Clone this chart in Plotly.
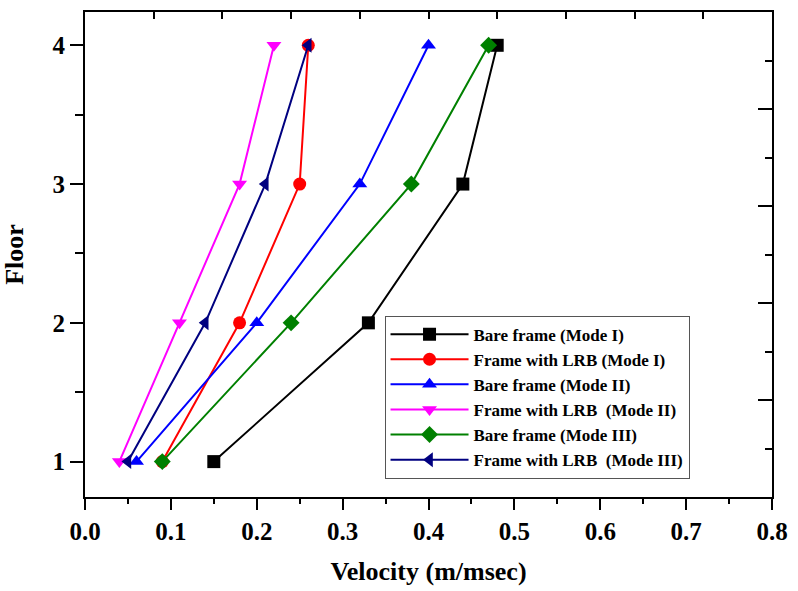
import plotly.graph_objects as go

floors = [1, 2, 3, 4]
bare_mode1 = [0.15, 0.33, 0.44, 0.48]
lrb_mode1 = [0.09, 0.18, 0.25, 0.26]
bare_mode2 = [0.06, 0.20, 0.32, 0.40]
lrb_mode2 = [0.04, 0.11, 0.18, 0.22]
bare_mode3 = [0.09, 0.24, 0.38, 0.47]
lrb_mode3 = [0.05, 0.14, 0.21, 0.26]

series = [
    ("Bare frame (Mode I)", bare_mode1, "#000000", "square"),
    ("Frame with LRB (Mode I)", lrb_mode1, "#ff0000", "circle"),
    ("Bare frame (Mode II)", bare_mode2, "#0000ff", "triangle-up"),
    ("Frame with LRB  (Mode II)", lrb_mode2, "#ff00ff", "triangle-down"),
    ("Bare frame (Mode III)", bare_mode3, "#008000", "diamond"),
    ("Frame with LRB  (Mode III)", lrb_mode3, "#000080", "triangle-left"),
]

FONT = "Times New Roman, Liberation Serif, serif"

fig = go.Figure()
for name, vals, color, sym in series:
    fig.add_trace(go.Scatter(
        x=vals, y=floors, name=name, mode="lines+markers",
        line=dict(color=color, width=2),
        marker=dict(symbol=sym, size=13, color=color, line=dict(width=0)),
    ))

# empty trace to instantiate the mirrored top/right axes
fig.add_trace(go.Scatter(x=[], y=[], xaxis="x2", yaxis="y2", showlegend=False, hoverinfo="skip"))

fig.update_layout(
    width=798, height=591,
    margin=dict(l=85, r=21, t=10, b=92),
    paper_bgcolor="white", plot_bgcolor="white",
    font=dict(family=FONT, color="black"),
    showlegend=True,
    legend=dict(
        x=0.436, y=0.374, xanchor="left", yanchor="top",
        bordercolor="#555555", borderwidth=1, bgcolor="white",
        font=dict(family=FONT, size=17, color="black", weight="bold"),
        itemwidth=78, tracegroupgap=0,
    ),
    xaxis=dict(
        range=[0, 0.8], dtick=0.1, tick0=0, tickformat=".1f",
        showgrid=False, zeroline=False,
        showline=True, linecolor="black", linewidth=2, mirror=True,
        ticks="outside", ticklen=11, tickwidth=2, tickcolor="black",
        minor=dict(ticks="outside", ticklen=5, tickwidth=2, tickcolor="black", dtick=0.05, tick0=0, showgrid=False),
        tickfont=dict(family=FONT, size=25, color="black", weight="bold"),
        title=dict(text="Velocity (m/msec)", font=dict(family=FONT, size=26, color="black", weight="bold"), standoff=18),
    ),
    yaxis=dict(
        range=[0.745, 4.24], dtick=1, tick0=0,
        showgrid=False, zeroline=False,
        showline=True, linecolor="black", linewidth=2, mirror=True,
        ticks="outside", ticklen=13, tickwidth=2, tickcolor="black",
        minor=dict(ticks="outside", ticklen=8, tickwidth=2, tickcolor="black", dtick=0.5, tick0=0, showgrid=False),
        tickfont=dict(family=FONT, size=25, color="black", weight="bold"),
        title=dict(text="Floor", font=dict(family=FONT, size=26, color="black", weight="bold"), standoff=22),
    ),
    xaxis2=dict(
        overlaying="x", side="top", anchor="y", range=[0, 10], dtick=1, tick0=0,
        showgrid=False, zeroline=False, showline=False, showticklabels=False,
        ticks="inside", ticklen=7, tickwidth=2, tickcolor="black",
    ),
    yaxis2=dict(
        overlaying="y", side="right", anchor="x", range=[0, 10], dtick=2, tick0=0,
        showgrid=False, zeroline=False, showline=False, showticklabels=False,
        ticks="inside", ticklen=14, tickwidth=2, tickcolor="black",
        minor=dict(ticks="inside", ticklen=7, tickwidth=2, tickcolor="black", dtick=1, tick0=0, showgrid=False),
    ),
)

fig.write_html("out.html")
